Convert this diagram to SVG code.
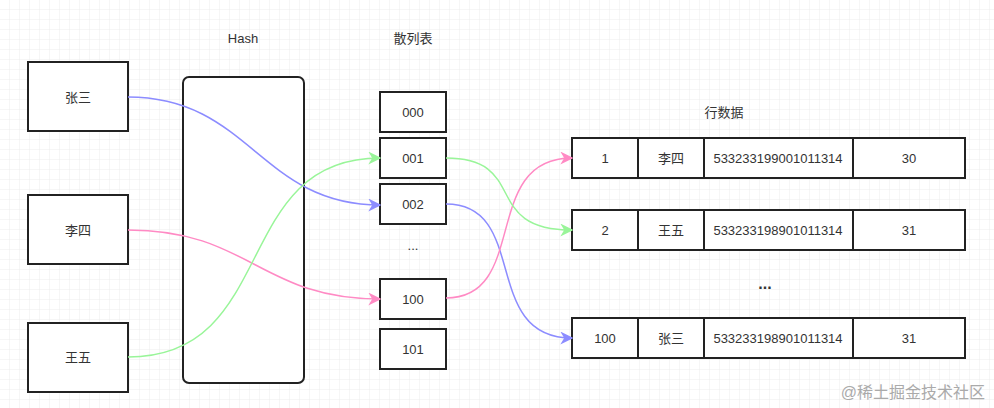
<svg xmlns="http://www.w3.org/2000/svg" width="994" height="408" viewBox="0 0 994 408">
<defs>
<pattern id="g" width="10" height="10" patternUnits="userSpaceOnUse"><path d="M10 0V10H0" fill="none" stroke="#ececec" stroke-width="1"/></pattern>
<marker id="ab" viewBox="0 0 10 10" refX="9" refY="5" markerWidth="13" markerHeight="13" orient="auto" markerUnits="userSpaceOnUse"><path d="M0 0L10 5L0 10L3 5Z" fill="#8c8cff"/></marker>
<marker id="ap" viewBox="0 0 10 10" refX="9" refY="5" markerWidth="13" markerHeight="13" orient="auto" markerUnits="userSpaceOnUse"><path d="M0 0L10 5L0 10L3 5Z" fill="#ff8ac4"/></marker>
<marker id="ag" viewBox="0 0 10 10" refX="9" refY="5" markerWidth="13" markerHeight="13" orient="auto" markerUnits="userSpaceOnUse"><path d="M0 0L10 5L0 10L3 5Z" fill="#99f599"/></marker>
<style>
.b{fill:#fff;stroke:#222;stroke-width:2}
text{font-family:"Liberation Sans","Noto Sans CJK SC",sans-serif;font-size:13px;fill:#333;text-anchor:middle;dominant-baseline:central}
.c{fill:none;stroke-width:1.5}
</style>
</defs>
<rect width="994" height="408" fill="#fff"/>
<rect width="994" height="408" fill="url(#g)"/>
<text x="243" y="38">Hash</text>
<text x="413" y="38">散列表</text>
<text x="724" y="112">行数据</text>
<g id="n-zhangsan"><rect class="b" x="28" y="62" width="100" height="69"/><text x="78" y="97">张三</text></g>
<g id="n-lisi"><rect class="b" x="28" y="195" width="100" height="69"/><text x="78" y="230">李四</text></g>
<g id="n-wangwu"><rect class="b" x="28" y="323" width="100" height="69"/><text x="78" y="357">王五</text></g>
<g id="n-hash"><rect class="b" x="183" y="77" width="121" height="306" rx="6"/></g>
<g id="h000"><rect class="b" x="380" y="92" width="66" height="40"/><text x="413" y="112">000</text></g>
<g id="h001"><rect class="b" x="380" y="138" width="66" height="40"/><text x="413" y="158">001</text></g>
<g id="h002"><rect class="b" x="380" y="184" width="66" height="40"/><text x="413" y="204">002</text></g>
<text x="413" y="245">...</text>
<g id="h100"><rect class="b" x="380" y="279" width="66" height="40"/><text x="413" y="299">100</text></g>
<g id="h101"><rect class="b" x="380" y="329" width="66" height="40"/><text x="413" y="349">101</text></g>
<g id="r1"><rect class="b" x="572" y="138" width="393" height="40"/><path d="M638 138V178M704 138V178M853 138V178" stroke="#222" stroke-width="2"/><text x="605" y="158">1</text><text x="671" y="158">李四</text><text x="778" y="158">533233199001011314</text><text x="909" y="158">30</text></g>
<g id="r2"><rect class="b" x="572" y="210" width="393" height="40"/><path d="M638 210V250M704 210V250M853 210V250" stroke="#222" stroke-width="2"/><text x="605" y="230">2</text><text x="671" y="230">王五</text><text x="778" y="230">533233198901011314</text><text x="909" y="230">31</text></g>
<text x="765" y="283" style="font-weight:bold;font-size:16px">...</text>
<g id="r3"><rect class="b" x="572" y="318" width="393" height="40"/><path d="M638 318V358M704 318V358M853 318V358" stroke="#222" stroke-width="2"/><text x="605" y="338">100</text><text x="671" y="338">张三</text><text x="778" y="338">533233198901011314</text><text x="909" y="338">31</text></g>
<g id="connectors">
<path class="c" stroke="#8c8cff" marker-end="url(#ab)" d="M128 97C250 97 260 205 380 205"/>
<path class="c" stroke="#8c8cff" marker-end="url(#ab)" d="M446 204C530 204 480 338 572 338"/>
<path class="c" stroke="#ff8ac4" marker-end="url(#ap)" d="M128 230C250 230 260 299 380 299"/>
<path class="c" stroke="#ff8ac4" marker-end="url(#ap)" d="M446 298C530 298 480 158 572 158"/>
<path class="c" stroke="#99f599" marker-end="url(#ag)" d="M128 357C280 357 230 158 380 158"/>
<path class="c" stroke="#99f599" marker-end="url(#ag)" d="M446 158C530 158 480 230 572 230"/>
</g>
<text x="985" y="392" style="text-anchor:end;font-size:16px;fill:#aaa">@稀土掘金技术社区</text>
</svg>
